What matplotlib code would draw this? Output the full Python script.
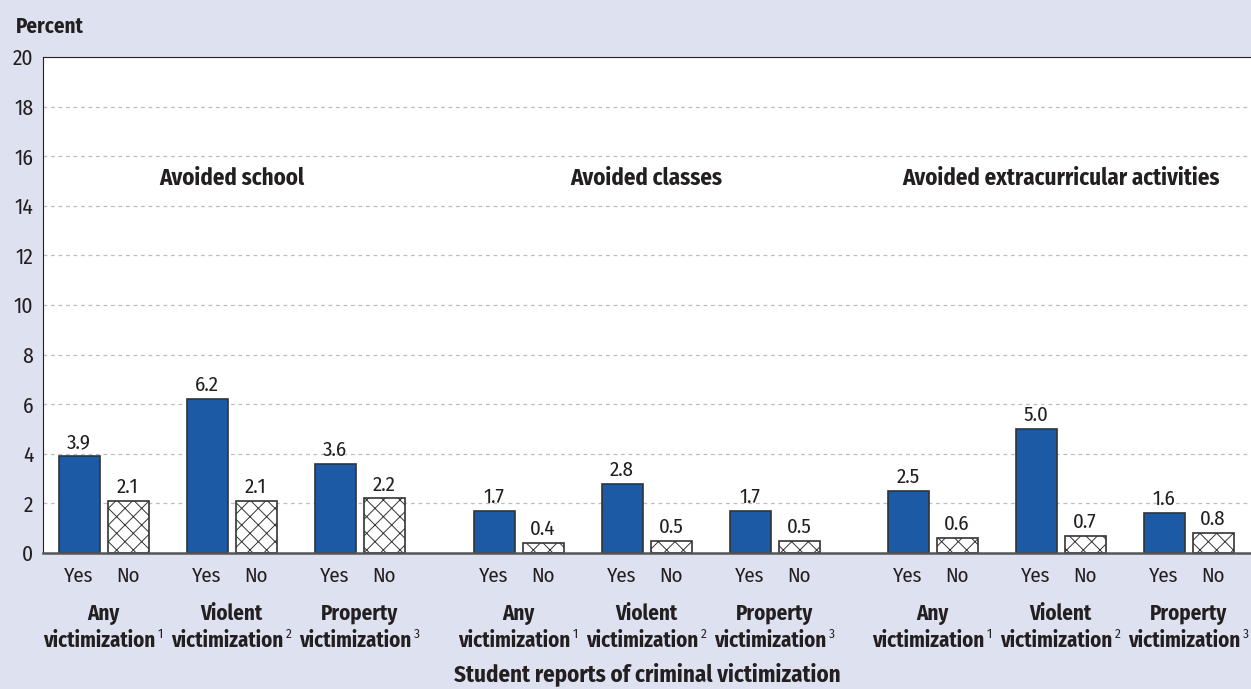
import matplotlib.pyplot as plt
from matplotlib import font_manager

# data
groups = ["Avoided school", "Avoided classes", "Avoided extracurricular activities"]
subgroups = ["Any", "Violent", "Property"]
sup_marks = ["1", "2", "3"]
yes_vals = [[3.9, 6.2, 3.6], [1.7, 2.8, 1.7], [2.5, 5.0, 1.6]]
no_vals = [[2.1, 2.1, 2.2], [0.4, 0.5, 0.5], [0.6, 0.7, 0.8]]
yticks = list(range(0, 21, 2))

# pick a narrow sans close to Myriad Condensed
fonts = {}
for f in font_manager.fontManager.ttflist:
    fonts.setdefault(f.name, set()).add(f.weight)
FONT = "DejaVu Sans"
for cand in ["Fira Sans Condensed", "PT Sans Narrow", "Archivo Narrow",
             "IBM Plex Sans Condensed", "Asap Condensed", "Roboto Condensed",
             "Liberation Sans Narrow"]:
    if cand in fonts and 700 in fonts[cand]:
        FONT = cand
        break
STRETCH = "condensed" if FONT == "DejaVu Sans" else "normal"
plt.rcParams["font.family"] = [FONT, "DejaVu Sans"]
plt.rcParams["font.stretch"] = STRETCH
plt.rcParams["hatch.linewidth"] = 0.7

BG = "#DEE1F0"
BLUE = "#1C5AA6"
INK = "#231F20"
W, H = 1251, 689

fig = plt.figure(figsize=(W / 100, H / 100), dpi=100, facecolor=BG)
ax = fig.add_axes([43 / W, (H - 553) / H, 1208 / W, (553 - 57) / H])
ax.set_facecolor("white")
ax.set_xlim(0, 1208)
ax.set_ylim(0, 20)

# layout (pixels inside axes)
group_off = [36, 451, 865]
sub_off = [0, 128, 256]
pair = 49
bw = 41

for y in yticks[1:-1]:
    ax.axhline(y, color="#BDBDBD", lw=0.9, ls=(0, (3, 3)), zorder=0)

for g in range(3):
    for s in range(3):
        xy = group_off[g] + sub_off[s]
        xn = xy + pair
        ax.bar(xy, yes_vals[g][s], width=bw, color=BLUE, edgecolor="#333333", lw=1.2, zorder=2)
        ax.bar(xn, no_vals[g][s], width=bw, color="white", edgecolor="#333333", lw=1.2,
               hatch="xx", zorder=2)
        ax.text(xy, yes_vals[g][s] + 0.32, f"{yes_vals[g][s]:.1f}", ha="center",
                va="baseline", fontsize=15, color=INK)
        ax.text(xn, no_vals[g][s] + 0.32, f"{no_vals[g][s]:.1f}", ha="center",
                va="baseline", fontsize=15, color=INK)
        for xx, lab in [(xy, "Yes"), (xn, "No")]:
            ax.text(xx, -1.16, lab, ha="center", va="baseline", fontsize=15, color=INK,
                    clip_on=False)
        xc = (xy + xn) / 2
        ax.text(xc, -2.70, subgroups[s], ha="center", va="baseline", fontsize=15,
                fontweight="bold", color=INK, clip_on=False)
        t = ax.text(xc - 4, -3.78, "victimization", ha="center", va="baseline",
                    fontsize=15, fontweight="bold", color=INK, clip_on=False)
        ax.annotate(sup_marks[s], xy=(1, 0.8), xycoords=t, xytext=(1.5, 0),
                    textcoords="offset points", ha="left", va="center", fontsize=9.5,
                    color=INK)
    gc = group_off[g] + (sub_off[2] + pair) / 2
    ax.text(gc, 14.84, groups[g], ha="center", va="baseline", fontsize=16.5,
            fontweight="bold", color=INK)

ax.text(604, -5.16, "Student reports of criminal victimization", ha="center",
        va="baseline", fontsize=16.5, fontweight="bold", color=INK, clip_on=False)
fig.text(16 / W, 1 - 33 / H, "Percent", ha="left", va="baseline", fontsize=15,
         fontweight="bold", color=INK)

ax.set_xticks([])
ax.set_yticks(yticks)
ax.tick_params(axis="y", length=0, pad=7, labelsize=15.5, labelcolor=INK)
ax.spines["right"].set_visible(False)
ax.spines["top"].set_color("#222222")
ax.spines["left"].set_color("#222222")
ax.spines["bottom"].set_color("#555555")
ax.spines["bottom"].set_linewidth(1.8)

fig.savefig("out.png", dpi=100, facecolor=BG)
